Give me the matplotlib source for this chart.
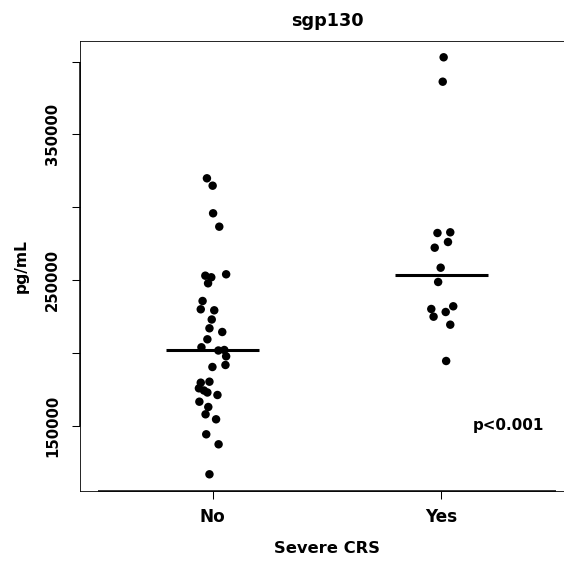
import numpy as np
import matplotlib
matplotlib.use("Agg")
import matplotlib.pyplot as plt

# Soluble gp130 concentrations (pg/mL) by severe CRS status
groups = ["No", "Yes"]

no_values = [319890, 314820, 295890, 286700, 254050, 253090, 251990, 247870,
             235730, 230040, 229350, 223040, 217010, 214470, 209460, 203980,
             202120, 201780, 197800, 191840, 190460, 180380, 179700, 175850,
             174350, 172970, 171260, 166660, 163030, 158020, 154590, 144300,
             137440, 116870]
# horizontal jitter of each point around its group centre (x units)
no_jitter = [-0.025, 0.000, 0.002, 0.029, 0.059, -0.032, -0.006, -0.020,
             -0.044, -0.052, 0.007, -0.004, -0.014, 0.042, -0.023, -0.049,
             0.051, 0.025, 0.059, 0.056, -0.001, -0.014, -0.052, -0.060,
             -0.038, -0.023, 0.021, -0.058, -0.019, -0.031, 0.015, -0.028,
             0.026, -0.014]

yes_values = [402890, 386150, 282850, 282370, 276200, 272290, 258570, 248770,
              232100, 230250, 228190, 224970, 219480, 194580]
yes_jitter = [0.010, 0.006, 0.039, -0.017, 0.029, -0.029, -0.003, -0.014,
              0.052, -0.044, 0.019, -0.034, 0.039, 0.021]

y_ticks = [150000, 200000, 250000, 300000, 350000, 400000]
y_tick_labels = ["150000", "", "250000", "", "350000", ""]

title = "sgp130"
x_title = "Severe CRS"
y_title = "pg/mL"
p_label = "p<0.001"

plt.rcParams["font.family"] = ["DejaVu Sans"]
plt.rcParams["font.weight"] = "bold"

fig = plt.figure(figsize=(5.64, 5.67), dpi=100)
ax = fig.add_axes([0.14184, 0.13404, 0.87589, 0.79418])

series = [(no_values, no_jitter), (yes_values, yes_jitter)]
for i, (vals, jit) in enumerate(series):
    pos = i + 1
    xs = pos + np.asarray(jit)
    ax.scatter(xs, vals, s=37, color="black", edgecolors="none", zorder=3)
    med = np.median(vals)
    ax.plot([pos - 0.203, pos + 0.203], [med, med], color="black",
            lw=2.2, solid_capstyle="butt", zorder=4)

ylo, yhi = 105410, 414270
ax.set_xlim(0.42, 2.58)
ax.set_ylim(ylo, yhi)

ax.set_xticks([1, 2])
ax.set_xticklabels(groups, fontsize=12.2, fontweight="bold")
ax.set_yticks(y_ticks)
ax.set_yticklabels(y_tick_labels, fontsize=10.7, fontweight="bold",
                   rotation=90, va="center")

ax.tick_params(axis="both", direction="out", length=5.8, width=0.75,
               color="black")
ax.tick_params(axis="x", pad=6.5)
ax.tick_params(axis="y", pad=8.5)

for sp in ax.spines.values():
    sp.set_linewidth(0.6)
    sp.set_color("black")

# axis lines spanning the tick range
ax.plot([0.5, 2.5], [ylo, ylo], color="black", lw=1.1, clip_on=False,
        zorder=5, solid_capstyle="butt")
ax.plot([0.42, 0.42], [y_ticks[0], y_ticks[-1]], color="black", lw=1.1,
        clip_on=False, zorder=5, solid_capstyle="butt")

ax.set_title(title, fontsize=12.7, fontweight="bold", pad=10.6)
ax.set_xlabel(x_title, fontsize=11.8, fontweight="bold", labelpad=11)
ax.set_ylabel(y_title, fontsize=11.2, fontweight="bold", labelpad=11.5)

ax.text(2.293, 147250, p_label, fontsize=10.9, fontweight="bold",
        ha="center", va="baseline")

fig.savefig("out.png", dpi=100)
